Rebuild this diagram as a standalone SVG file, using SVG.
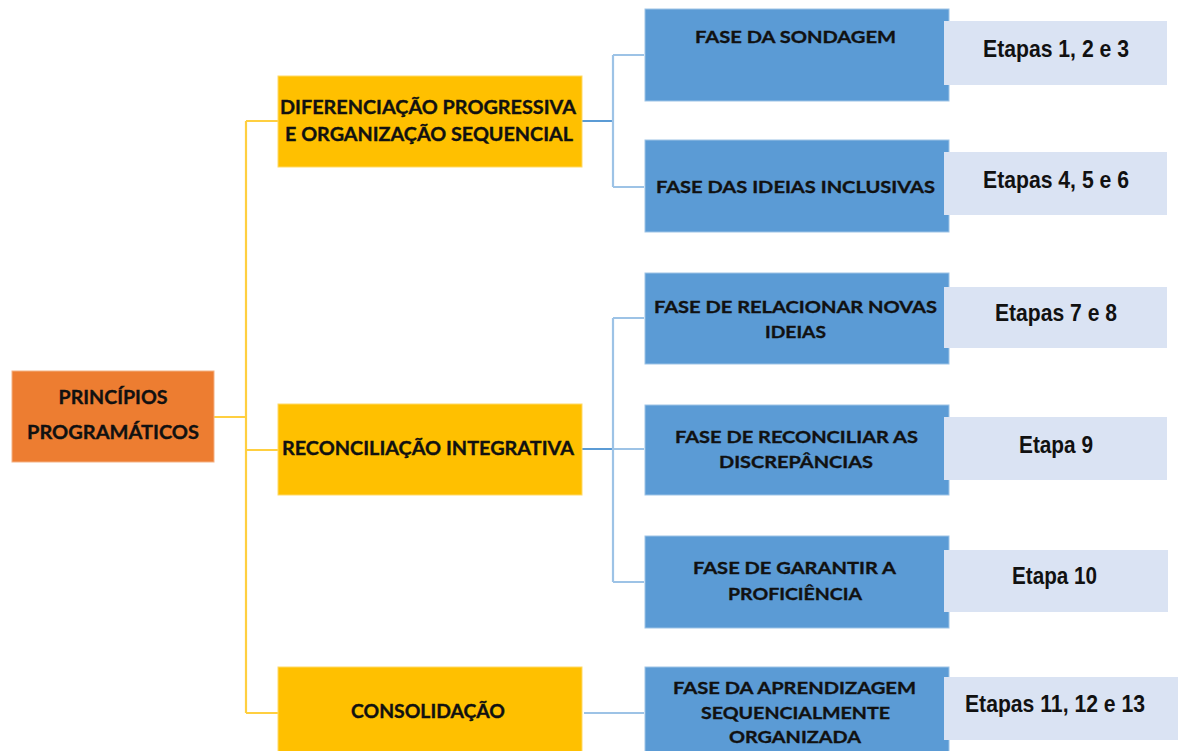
<svg xmlns="http://www.w3.org/2000/svg" width="1178" height="751" viewBox="0 0 1178 751">
<style>
.t{font-family:Lato,"Open Sans","Liberation Sans",sans-serif;font-weight:700;fill:#111;text-anchor:middle;stroke:#111;stroke-width:0.35}
.big{font-size:19px}
.sm{font-size:17.5px}
.et{font-family:"Liberation Sans",Arial,sans-serif;font-weight:700;font-size:24px;fill:#111;text-anchor:middle}
.org{fill:#ED7D31;stroke:#F4B183;stroke-width:1}
.yel{fill:#FFC000;stroke:#FFD966;stroke-width:1}
.blu{fill:#5B9BD5;stroke:#9DC3E6;stroke-width:1}
.lt{fill:#DAE3F3}
.cy{fill:none;stroke:#FFCF40;stroke-width:2.2}
.cb{fill:none;stroke:#9DC3E6;stroke-width:2.2}
.cbd{fill:none;stroke:#5B9BD5;stroke-width:2.2}
</style>
<rect width="1178" height="751" fill="#fff"/>
<g id="connectors">
<path class="cy" d="M214 417 H246 M246 121 V713 M246 121 H278 M246 450 H278 M246 713 H278"/>
<path class="cbd" d="M582 121 H613 M582 449 H613"/>
<path class="cb" d="M613 55 V187 M613 55 H644 M613 187 H644 M613 318 V582 M613 318 H644 M613 449 H644 M613 582 H644 M584 713 H644"/>
</g>
<g id="n-principios">
<rect class="org" x="12" y="371" width="202" height="91"/>
<text class="t big" x="113" y="404" textLength="109" lengthAdjust="spacingAndGlyphs">PRINCÍPIOS</text>
<text class="t big" x="113" y="439" textLength="172" lengthAdjust="spacingAndGlyphs">PROGRAMÁTICOS</text>
</g>
<g id="n-diferenciacao">
<rect class="yel" x="278" y="76" width="304" height="91"/>
<text class="t big" x="428" y="114" textLength="296" lengthAdjust="spacingAndGlyphs">DIFERENCIAÇÃO PROGRESSIVA</text>
<text class="t big" x="429" y="141" textLength="288" lengthAdjust="spacingAndGlyphs">E ORGANIZAÇÃO SEQUENCIAL</text>
</g>
<g id="n-reconciliacao">
<rect class="yel" x="278" y="404" width="304" height="91"/>
<text class="t big" x="428" y="455" textLength="292" lengthAdjust="spacingAndGlyphs">RECONCILIAÇÃO INTEGRATIVA</text>
</g>
<g id="n-consolidacao">
<rect class="yel" x="278" y="667" width="304" height="92"/>
<text class="t big" x="428" y="718" textLength="154" lengthAdjust="spacingAndGlyphs">CONSOLIDAÇÃO</text>
</g>
<g id="n-sondagem">
<rect class="blu" x="645" y="9" width="304" height="92"/>
<text class="t sm" x="795.5" y="43" textLength="201" lengthAdjust="spacingAndGlyphs">FASE DA SONDAGEM</text>
<rect class="lt" x="944" y="21" width="223" height="64"/>
<text class="et" x="1056" y="57" textLength="146" lengthAdjust="spacingAndGlyphs">Etapas 1, 2 e 3</text>
</g>
<g id="n-ideias">
<rect class="blu" x="645" y="140" width="304" height="92"/>
<text class="t sm" x="795.5" y="193" textLength="279" lengthAdjust="spacingAndGlyphs">FASE DAS IDEIAS INCLUSIVAS</text>
<rect class="lt" x="944" y="152" width="223" height="63"/>
<text class="et" x="1056" y="188" textLength="146" lengthAdjust="spacingAndGlyphs">Etapas 4, 5 e 6</text>
</g>
<g id="n-relacionar">
<rect class="blu" x="645" y="273" width="304" height="91"/>
<text class="t sm" x="795.5" y="312.5" textLength="283" lengthAdjust="spacingAndGlyphs">FASE DE RELACIONAR NOVAS</text>
<text class="t sm" x="795.5" y="337.5" textLength="61" lengthAdjust="spacingAndGlyphs">IDEIAS</text>
<rect class="lt" x="944" y="287" width="223" height="61"/>
<text class="et" x="1056" y="321" textLength="122" lengthAdjust="spacingAndGlyphs">Etapas 7 e 8</text>
</g>
<g id="n-reconciliar">
<rect class="blu" x="645" y="405" width="304" height="90"/>
<text class="t sm" x="796.5" y="442.5" textLength="243" lengthAdjust="spacingAndGlyphs">FASE DE RECONCILIAR AS</text>
<text class="t sm" x="796" y="468" textLength="154" lengthAdjust="spacingAndGlyphs">DISCREPÂNCIAS</text>
<rect class="lt" x="944" y="417" width="223" height="63"/>
<text class="et" x="1056" y="453" textLength="74" lengthAdjust="spacingAndGlyphs">Etapa 9</text>
</g>
<g id="n-garantir">
<rect class="blu" x="645" y="536" width="304" height="92"/>
<text class="t sm" x="794.5" y="574" textLength="203" lengthAdjust="spacingAndGlyphs">FASE DE GARANTIR A</text>
<text class="t sm" x="795" y="600" textLength="134" lengthAdjust="spacingAndGlyphs">PROFICIÊNCIA</text>
<rect class="lt" x="944" y="550" width="224" height="62"/>
<text class="et" x="1054.5" y="584" textLength="85" lengthAdjust="spacingAndGlyphs">Etapa 10</text>
</g>
<g id="n-aprendizagem">
<rect class="blu" x="645" y="667" width="304" height="92"/>
<text class="t sm" x="794.5" y="694" textLength="243" lengthAdjust="spacingAndGlyphs">FASE DA APRENDIZAGEM</text>
<text class="t sm" x="795.5" y="719" textLength="189" lengthAdjust="spacingAndGlyphs">SEQUENCIALMENTE</text>
<text class="t sm" x="795" y="743" textLength="132" lengthAdjust="spacingAndGlyphs">ORGANIZADA</text>
<rect class="lt" x="944" y="677" width="234" height="63"/>
<text class="et" x="1055" y="712" textLength="180" lengthAdjust="spacingAndGlyphs">Etapas 11, 12 e 13</text>
</g>
</svg>
